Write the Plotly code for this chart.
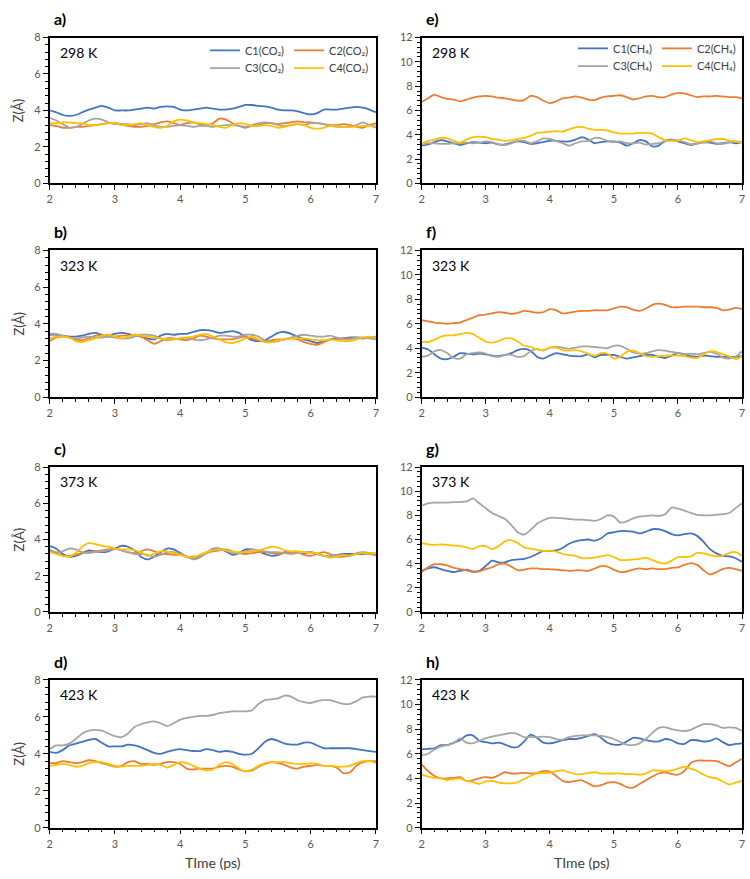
import plotly.graph_objects as go

# ---------------- data ----------------
TIME_PS = [2.0, 2.1, 2.2, 2.3, 2.4, 2.5, 2.6, 2.7, 2.8, 2.9,
           3.0, 3.1, 3.2, 3.3, 3.4, 3.5, 3.6, 3.7, 3.8, 3.9,
           4.0, 4.1, 4.2, 4.3, 4.4, 4.5, 4.6, 4.7, 4.8, 4.9,
           5.0, 5.1, 5.2, 5.3, 5.4, 5.5, 5.6, 5.7, 5.8, 5.9,
           6.0, 6.1, 6.2, 6.3, 6.4, 6.5, 6.6, 6.7, 6.8, 6.9,
           7.0]

X_TICKS = [2, 3, 4, 5, 6, 7]
CO2_NAMES = ["C1(CO\u2082)", "C2(CO\u2082)", "C3(CO\u2082)", "C4(CO\u2082)"]
CH4_NAMES = ["C1(CH\u2084)", "C2(CH\u2084)", "C3(CH\u2084)", "C4(CH\u2084)"]
PANEL_LETTERS = ["a)", "b)", "c)", "d)", "e)", "f)", "g)", "h)"]
TEMPS = ["298 K", "323 K", "373 K", "423 K"]

# a) CO2 298 K
co2_298_c1 = [4.0, 3.9, 3.75, 3.7, 3.75, 3.9, 4.05, 4.15, 4.25, 4.15,
              4.0, 4.0, 4.0, 4.05, 4.1, 4.15, 4.1, 4.2, 4.22, 4.2,
              4.05, 4.0, 4.05, 4.1, 4.15, 4.1, 4.05, 4.05, 4.1, 4.2,
              4.3, 4.3, 4.25, 4.22, 4.15, 4.05, 4.0, 4.0, 3.95, 3.85,
              3.78, 3.85, 4.05, 4.05, 4.05, 4.1, 4.15, 4.2, 4.15, 4.05,
              3.9]
co2_298_c2 = [3.2, 3.15, 3.05, 3.05, 3.1, 3.1, 3.15, 3.2, 3.25, 3.3,
              3.3, 3.25, 3.15, 3.1, 3.1, 3.15, 3.25, 3.35, 3.4, 3.3,
              3.2, 3.3, 3.35, 3.25, 3.2, 3.3, 3.55, 3.5, 3.3, 3.15,
              3.05, 3.15, 3.2, 3.3, 3.3, 3.25, 3.3, 3.35, 3.4, 3.35,
              3.35, 3.3, 3.25, 3.2, 3.2, 3.25, 3.2, 3.1, 3.05, 3.2,
              3.3]
co2_298_c3 = [3.6, 3.45, 3.25, 3.05, 3.1, 3.25, 3.45, 3.55, 3.5, 3.35,
              3.25, 3.25, 3.25, 3.2, 3.25, 3.3, 3.2, 3.1, 3.1, 3.15,
              3.2, 3.15, 3.1, 3.15, 3.15, 3.1, 3.15, 3.2, 3.2, 3.15,
              3.1, 3.2, 3.3, 3.35, 3.3, 3.2, 3.15, 3.2, 3.25, 3.2,
              3.3, 3.3, 3.25, 3.15, 3.1, 3.1, 3.1, 3.2, 3.35, 3.2,
              3.05]
co2_298_c4 = [3.3, 3.3, 3.35, 3.35, 3.3, 3.3, 3.2, 3.2, 3.25, 3.3,
              3.3, 3.2, 3.2, 3.25, 3.3, 3.2, 3.1, 3.05, 3.15, 3.4,
              3.5, 3.45, 3.35, 3.3, 3.25, 3.2, 3.1, 3.05, 3.2, 3.3,
              3.25, 3.15, 3.15, 3.2, 3.15, 3.05, 3.1, 3.2, 3.25, 3.2,
              3.05, 3.0, 3.05, 3.15, 3.15, 3.1, 3.1, 3.1, 3.15, 3.15,
              3.2]

# b) CO2 323 K
co2_323_c1 = [3.4, 3.4, 3.35, 3.3, 3.3, 3.35, 3.45, 3.5, 3.4, 3.35,
              3.45, 3.5, 3.45, 3.35, 3.3, 3.2, 3.15, 3.35, 3.45, 3.4,
              3.45, 3.45, 3.55, 3.65, 3.65, 3.6, 3.5, 3.55, 3.6, 3.5,
              3.3, 3.1, 3.05, 3.1, 3.3, 3.5, 3.55, 3.45, 3.3, 3.15,
              3.05, 2.95, 3.05, 3.15, 3.2, 3.2, 3.25, 3.25, 3.2, 3.25,
              3.25]
co2_323_c2 = [3.05, 3.25, 3.3, 3.25, 3.15, 3.1, 3.2, 3.35, 3.35, 3.3,
              3.3, 3.35, 3.35, 3.4, 3.3, 3.1, 2.9, 3.05, 3.2, 3.2,
              3.15, 3.1, 3.2, 3.35, 3.3, 3.2, 3.15, 3.15, 3.15, 3.25,
              3.3, 3.2, 3.1, 3.05, 3.1, 3.15, 3.15, 3.2, 3.15, 3.0,
              2.9, 2.85, 3.0, 3.15, 3.15, 3.2, 3.2, 3.2, 3.2, 3.25,
              3.3]
co2_323_c3 = [3.45, 3.45, 3.35, 3.25, 3.2, 3.25, 3.3, 3.25, 3.25, 3.3,
              3.25, 3.2, 3.2, 3.3, 3.4, 3.4, 3.35, 3.2, 3.1, 3.15,
              3.2, 3.2, 3.15, 3.1, 3.15, 3.25, 3.35, 3.35, 3.3, 3.3,
              3.4, 3.4, 3.3, 3.1, 3.0, 3.05, 3.15, 3.25, 3.35, 3.4,
              3.35, 3.3, 3.3, 3.35, 3.25, 3.15, 3.15, 3.25, 3.25, 3.2,
              3.15]
co2_323_c4 = [3.2, 3.3, 3.3, 3.25, 3.05, 3.0, 3.1, 3.2, 3.35, 3.4,
              3.3, 3.2, 3.3, 3.4, 3.35, 3.3, 3.25, 3.2, 3.15, 3.15,
              3.2, 3.25, 3.3, 3.4, 3.45, 3.3, 3.15, 3.0, 2.95, 3.05,
              3.2, 3.3, 3.15, 3.0, 3.0, 3.1, 3.15, 3.2, 3.2, 3.2,
              3.15, 3.1, 3.1, 3.15, 3.1, 3.05, 3.05, 3.15, 3.25, 3.3,
              3.25]

# c) CO2 373 K
co2_373_c1 = [3.65, 3.5, 3.2, 3.05, 3.1, 3.25, 3.4, 3.35, 3.3, 3.35,
              3.5, 3.65, 3.6, 3.4, 3.05, 2.9, 3.05, 3.3, 3.5, 3.45,
              3.25, 3.05, 2.95, 3.05, 3.25, 3.45, 3.5, 3.35, 3.15, 3.25,
              3.45, 3.45, 3.35, 3.2, 3.1, 3.15, 3.3, 3.3, 3.3, 3.25,
              3.3, 3.2, 3.1, 3.1, 3.15, 3.2, 3.2, 3.2, 3.2, 3.25,
              3.2]
co2_373_c2 = [3.4, 3.25, 3.1, 3.1, 3.15, 3.25, 3.3, 3.35, 3.4, 3.45,
              3.5, 3.4, 3.3, 3.25, 3.35, 3.45, 3.35, 3.2, 3.2, 3.15,
              3.15, 3.05, 3.05, 3.1, 3.25, 3.35, 3.4, 3.45, 3.35, 3.25,
              3.2, 3.25, 3.3, 3.3, 3.25, 3.2, 3.25, 3.3, 3.3, 3.15,
              3.1, 3.2, 3.3, 3.2, 3.05, 3.05, 3.1, 3.2, 3.25, 3.2,
              3.2]
co2_373_c3 = [3.45, 3.3, 3.35, 3.5, 3.45, 3.3, 3.25, 3.3, 3.35, 3.4,
              3.5, 3.4, 3.3, 3.2, 3.2, 3.15, 3.05, 3.15, 3.3, 3.3,
              3.2, 3.05, 2.9, 3.0, 3.25, 3.5, 3.5, 3.4, 3.25, 3.25,
              3.35, 3.45, 3.4, 3.35, 3.3, 3.3, 3.25, 3.2, 3.25, 3.3,
              3.3, 3.2, 3.1, 3.1, 3.15, 3.1, 3.1, 3.25, 3.3, 3.25,
              3.1]
co2_373_c4 = [3.3, 3.2, 3.1, 3.05, 3.25, 3.6, 3.8, 3.75, 3.65, 3.6,
              3.5, 3.45, 3.45, 3.4, 3.3, 3.1, 3.2, 3.35, 3.35, 3.25,
              3.15, 3.05, 3.0, 3.15, 3.3, 3.4, 3.45, 3.4, 3.35, 3.3,
              3.3, 3.35, 3.4, 3.5, 3.6, 3.55, 3.4, 3.35, 3.35, 3.3,
              3.25, 3.25, 3.1, 3.0, 3.05, 3.15, 3.1, 3.2, 3.25, 3.25,
              3.25]

# d) CO2 423 K
co2_423_c1 = [4.1, 4.05, 4.2, 4.45, 4.55, 4.65, 4.75, 4.8, 4.6, 4.4,
              4.4, 4.4, 4.5, 4.45, 4.35, 4.2, 4.05, 4.0, 4.1, 4.2,
              4.25, 4.2, 4.15, 4.15, 4.25, 4.2, 4.1, 4.15, 4.1, 4.0,
              3.95, 4.0, 4.3, 4.65, 4.8, 4.7, 4.55, 4.5, 4.5, 4.6,
              4.6, 4.45, 4.3, 4.3, 4.3, 4.3, 4.3, 4.25, 4.2, 4.15,
              4.1]
co2_423_c2 = [3.5, 3.5, 3.6, 3.55, 3.5, 3.55, 3.65, 3.6, 3.5, 3.4,
              3.3, 3.35, 3.55, 3.6, 3.45, 3.45, 3.4, 3.45, 3.55, 3.55,
              3.45, 3.2, 3.15, 3.2, 3.2, 3.2, 3.3, 3.35, 3.3, 3.15,
              3.05, 3.1, 3.3, 3.45, 3.55, 3.5, 3.4, 3.25, 3.2, 3.3,
              3.35, 3.4, 3.35, 3.35, 3.25, 2.95, 3.0, 3.35, 3.55, 3.6,
              3.6]
co2_423_c3 = [4.25, 4.45, 4.45, 4.55, 4.8, 5.1, 5.25, 5.3, 5.25, 5.1,
              4.95, 4.9, 5.1, 5.45, 5.6, 5.7, 5.75, 5.65, 5.5, 5.65,
              5.85, 5.95, 6.0, 6.05, 6.05, 6.1, 6.2, 6.25, 6.3, 6.3,
              6.3, 6.35, 6.7, 6.9, 6.95, 7.0, 7.15, 7.1, 6.9, 6.8,
              6.75, 6.85, 6.9, 6.9, 6.8, 6.7, 6.7, 6.85, 7.05, 7.1,
              7.1]
co2_423_c4 = [3.35, 3.4, 3.45, 3.4, 3.3, 3.35, 3.5, 3.55, 3.55, 3.45,
              3.35, 3.3, 3.35, 3.35, 3.35, 3.4, 3.45, 3.4, 3.25, 3.4,
              3.55, 3.5, 3.35, 3.2, 3.1, 3.15, 3.4, 3.55, 3.45, 3.2,
              3.05, 3.15, 3.35, 3.5, 3.55, 3.55, 3.55, 3.5, 3.45, 3.45,
              3.5, 3.45, 3.35, 3.35, 3.3, 3.3, 3.35, 3.5, 3.6, 3.6,
              3.5]

# e) CH4 298 K
ch4_298_c1 = [3.1, 3.2, 3.4, 3.55, 3.45, 3.3, 3.15, 3.3, 3.4, 3.35,
              3.3, 3.35, 3.2, 3.2, 3.35, 3.45, 3.4, 3.25, 3.3, 3.4,
              3.5, 3.5, 3.45, 3.45, 3.6, 3.8, 3.6, 3.3, 3.4, 3.45,
              3.45, 3.35, 3.1, 3.3, 3.55, 3.45, 3.05, 3.1, 3.5, 3.6,
              3.45, 3.3, 3.15, 3.3, 3.4, 3.35, 3.25, 3.3, 3.4, 3.3,
              3.4]
ch4_298_c2 = [6.7, 7.0, 7.3, 7.1, 6.95, 6.9, 6.75, 6.9, 7.05, 7.15,
              7.2, 7.15, 7.05, 7.0, 6.9, 6.8, 6.85, 7.2, 7.1, 6.8,
              6.6, 6.75, 7.0, 7.05, 7.15, 7.05, 6.9, 6.85, 7.05, 7.15,
              7.2, 7.25, 7.1, 6.9, 7.0, 7.15, 7.2, 7.1, 7.1, 7.3,
              7.45, 7.4, 7.25, 7.1, 7.15, 7.15, 7.2, 7.15, 7.1, 7.1,
              7.0]
ch4_298_c3 = [3.2, 3.3, 3.3, 3.25, 3.25, 3.3, 3.3, 3.35, 3.3, 3.35,
              3.45, 3.4, 3.2, 3.15, 3.3, 3.5, 3.5, 3.3, 3.45, 3.7,
              3.65, 3.5, 3.3, 3.1, 3.3, 3.45, 3.5, 3.75, 3.7, 3.5,
              3.4, 3.45, 3.3, 3.3, 3.35, 3.2, 3.25, 3.3, 3.45, 3.55,
              3.55, 3.4, 3.2, 3.25, 3.35, 3.45, 3.3, 3.25, 3.35, 3.45,
              3.4]
ch4_298_c4 = [3.25, 3.5, 3.6, 3.75, 3.7, 3.5, 3.35, 3.6, 3.8, 3.85,
              3.8, 3.65, 3.6, 3.5, 3.55, 3.65, 3.75, 3.9, 4.15, 4.2,
              4.25, 4.3, 4.25, 4.45, 4.6, 4.65, 4.5, 4.4, 4.4, 4.35,
              4.2, 4.1, 4.1, 4.1, 4.15, 4.15, 4.1, 3.8, 3.55, 3.5,
              3.5, 3.7, 3.55, 3.4, 3.45, 3.55, 3.65, 3.65, 3.5, 3.45,
              3.35]

# f) CH4 323 K
ch4_323_c1 = [4.05, 3.9, 3.5, 3.15, 3.1, 3.3, 3.6, 3.55, 3.5, 3.55,
              3.5, 3.4, 3.35, 3.45, 3.6, 3.85, 3.95, 3.8, 3.3, 3.15,
              3.4, 3.6, 3.5, 3.4, 3.35, 3.35, 3.5, 3.25, 3.45, 3.45,
              3.45, 3.3, 3.15, 3.25, 3.35, 3.45, 3.45, 3.3, 3.2, 3.4,
              3.6, 3.5, 3.35, 3.3, 3.4, 3.35, 3.3, 3.3, 3.3, 3.3,
              3.35]
ch4_323_c2 = [6.3, 6.2, 6.1, 6.05, 6.0, 6.05, 6.1, 6.3, 6.5, 6.7,
              6.75, 6.85, 6.95, 6.9, 6.8, 6.9, 7.05, 7.0, 6.9, 6.95,
              7.2, 7.1, 6.85, 6.9, 7.0, 7.05, 7.05, 7.1, 7.1, 7.1,
              7.25, 7.4, 7.35, 7.15, 7.05, 7.25, 7.55, 7.65, 7.55, 7.35,
              7.35, 7.4, 7.4, 7.4, 7.35, 7.35, 7.3, 7.1, 7.15, 7.3,
              7.2]
ch4_323_c3 = [3.3, 3.4, 3.75, 3.85, 3.6, 3.2, 3.15, 3.5, 3.6, 3.65,
              3.55, 3.35, 3.3, 3.45, 3.45, 3.3, 3.35, 3.75, 3.95, 3.8,
              4.05, 4.1, 4.05, 3.95, 4.05, 4.15, 4.15, 4.1, 4.05, 4.0,
              4.2, 4.2, 3.95, 3.65, 3.55, 3.6, 3.75, 3.85, 3.8, 3.7,
              3.6, 3.5, 3.55, 3.5, 3.6, 3.7, 3.55, 3.25, 3.15, 3.3,
              3.75]
ch4_323_c4 = [4.5, 4.5, 4.7, 4.95, 5.05, 5.05, 5.15, 5.25, 5.15, 4.85,
              4.55, 4.45, 4.6, 4.8, 4.8, 4.55, 4.2, 4.1, 3.9, 3.85,
              4.05, 4.05, 3.85, 3.8, 3.85, 3.75, 3.55, 3.4, 3.6, 3.55,
              3.15, 3.3, 3.7, 3.8, 3.6, 3.35, 3.3, 3.35, 3.4, 3.4,
              3.4, 3.35, 3.25, 3.2, 3.5, 3.75, 3.7, 3.5, 3.35, 3.1,
              3.35]

# g) CH4 373 K
ch4_373_c1 = [3.4, 3.6, 3.7, 3.55, 3.4, 3.3, 3.4, 3.5, 3.35, 3.4,
              3.8, 4.25, 4.1, 4.1, 4.3, 4.35, 4.4, 4.55, 4.8, 5.05,
              5.05, 5.1, 5.3, 5.65, 5.85, 5.95, 6.0, 5.9, 6.1, 6.5,
              6.6, 6.7, 6.7, 6.65, 6.5, 6.65, 6.85, 6.85, 6.7, 6.45,
              6.35, 6.45, 6.5, 6.3, 5.8, 5.2, 4.85, 4.65, 4.6, 4.45,
              4.15]
ch4_373_c2 = [3.3, 3.7, 3.95, 3.95, 3.85, 3.65, 3.55, 3.45, 3.3, 3.35,
              3.55, 3.7, 3.95, 4.0, 3.75, 3.45, 3.5, 3.6, 3.6, 3.55,
              3.55, 3.5, 3.45, 3.4, 3.45, 3.45, 3.4, 3.6, 3.8, 3.75,
              3.5, 3.3, 3.35, 3.5, 3.6, 3.55, 3.6, 3.55, 3.55, 3.65,
              3.7, 3.9, 4.05, 3.9, 3.45, 3.1, 3.3, 3.55, 3.65, 3.55,
              3.4]
ch4_373_c3 = [8.8, 9.0, 9.05, 9.05, 9.05, 9.1, 9.1, 9.15, 9.4, 9.0,
              8.6, 8.2, 7.95, 7.7, 7.2, 6.6, 6.4, 6.8, 7.3, 7.6,
              7.8, 7.8, 7.75, 7.7, 7.65, 7.65, 7.6, 7.55, 7.7, 8.0,
              7.9, 7.4, 7.5, 7.75, 7.9, 7.95, 8.0, 7.95, 8.1, 8.65,
              8.55, 8.4, 8.2, 8.05, 8.0, 8.0, 8.05, 8.1, 8.2, 8.6,
              9.0]
ch4_373_c4 = [5.7, 5.6, 5.55, 5.6, 5.55, 5.5, 5.45, 5.35, 5.2, 5.45,
              5.45, 5.2, 5.45, 5.85, 5.95, 5.7, 5.35, 5.25, 5.15, 5.05,
              5.05, 5.0, 4.8, 4.7, 4.65, 4.45, 4.45, 4.5, 4.6, 4.7,
              4.55, 4.3, 4.3, 4.35, 4.4, 4.5, 4.3, 4.1, 4.0, 4.25,
              4.55, 4.55, 4.6, 4.9, 4.85, 4.7, 4.6, 4.65, 4.9, 4.95,
              4.65]

# h) CH4 423 K
ch4_423_c1 = [6.35, 6.4, 6.45, 6.7, 6.7, 6.9, 7.1, 7.5, 7.5, 7.05,
              6.95, 6.85, 6.9, 6.75, 6.55, 6.55, 7.0, 7.55, 7.3, 6.9,
              6.85, 6.95, 7.1, 7.2, 7.2, 7.3, 7.45, 7.6, 7.3, 6.9,
              6.75, 6.75, 7.0, 7.3, 7.25, 7.1, 7.0, 7.0, 7.2, 7.1,
              6.85, 6.8, 7.1, 7.1, 7.0, 7.05, 7.25, 6.95, 6.7, 6.8,
              6.85]
ch4_423_c2 = [5.15, 4.6, 4.2, 4.0, 4.0, 4.05, 4.1, 3.8, 3.85, 4.0,
              4.1, 4.05, 4.25, 4.5, 4.4, 4.4, 4.45, 4.4, 4.45, 4.6,
              4.55, 4.2, 3.8, 3.7, 3.8, 3.85, 3.6, 3.35, 3.45, 3.65,
              3.7, 3.55, 3.3, 3.25, 3.55, 3.85, 4.15, 4.4, 4.5, 4.35,
              4.3, 4.6, 5.25, 5.45, 5.45, 5.45, 5.4, 5.2, 5.0, 5.3,
              5.6]
ch4_423_c3 = [5.85, 6.0, 6.35, 6.6, 6.7, 6.85, 7.25, 6.9, 6.85, 7.05,
              7.25, 7.4, 7.5, 7.6, 7.7, 7.6, 7.35, 7.35, 7.35, 7.4,
              7.35, 7.2, 7.15, 7.35, 7.45, 7.5, 7.5, 7.5, 7.45, 7.35,
              7.2, 6.95, 6.75, 6.7, 6.85, 7.2, 7.7, 8.1, 8.15, 8.0,
              7.9, 7.85, 7.95, 8.2, 8.4, 8.4, 8.3, 8.1, 8.15, 8.1,
              7.85]
ch4_423_c4 = [4.3, 4.15, 4.05, 4.0, 3.85, 3.95, 4.0, 3.8, 3.7, 3.55,
              3.75, 3.8, 3.65, 3.6, 3.6, 3.7, 3.95, 4.2, 4.4, 4.45,
              4.45, 4.6, 4.65, 4.5, 4.35, 4.35, 4.45, 4.5, 4.4, 4.4,
              4.4, 4.4, 4.35, 4.35, 4.3, 4.4, 4.65, 4.65, 4.6, 4.65,
              4.8, 4.95, 4.8, 4.6, 4.3, 4.1, 4.0, 3.75, 3.5, 3.65,
              3.8]

# ---------------- styling / layout ----------------
COLORS = ["#4472C4", "#ED7D31", "#A5A5A5", "#FFC000"]
FONT = "Lato"
W, H = 750, 879

panels = [
    ([co2_298_c1, co2_298_c2, co2_298_c3, co2_298_c4], CO2_NAMES, 8, 0, 0),
    ([co2_323_c1, co2_323_c2, co2_323_c3, co2_323_c4], CO2_NAMES, 8, 0, 1),
    ([co2_373_c1, co2_373_c2, co2_373_c3, co2_373_c4], CO2_NAMES, 8, 0, 2),
    ([co2_423_c1, co2_423_c2, co2_423_c3, co2_423_c4], CO2_NAMES, 8, 0, 3),
    ([ch4_298_c1, ch4_298_c2, ch4_298_c3, ch4_298_c4], CH4_NAMES, 12, 1, 0),
    ([ch4_323_c1, ch4_323_c2, ch4_323_c3, ch4_323_c4], CH4_NAMES, 12, 1, 1),
    ([ch4_373_c1, ch4_373_c2, ch4_373_c3, ch4_373_c4], CH4_NAMES, 12, 1, 2),
    ([ch4_423_c1, ch4_423_c2, ch4_423_c3, ch4_423_c4], CH4_NAMES, 12, 1, 3),
]

# pixel geometry of plot areas
COL_X = [(47, 376), (422, 745)]
ROW_Y = [(31, 179), (247, 396), (467, 614), (683, 833)]


def px_x(p):
    return p / W


def px_y(p):
    return 1 - p / H


fig = go.Figure()
annotations = []
layout_axes = {}

legend_map = {0: ["legend", "legend", "legend2", "legend2"],
              4: ["legend3", "legend3", "legend4", "legend4"]}

for i, (series, names, ymax, col, row) in enumerate(panels):
    n = i + 1
    xa = "x" if n == 1 else f"x{n}"
    ya = "y" if n == 1 else f"y{n}"
    for k in range(4):
        if i in legend_map:
            kw = dict(showlegend=True, legend=legend_map[i][k])
        else:
            kw = dict(showlegend=False)
        fig.add_trace(go.Scatter(
            x=TIME_PS, y=series[k], mode="lines", name=names[k],
            line=dict(color=COLORS[k], width=1.8, shape="spline", smoothing=0.6),
            xaxis=xa, yaxis=ya, **kw))

    x0, x1 = COL_X[col]
    y0, y1 = ROW_Y[row]
    xkey = "xaxis" if n == 1 else f"xaxis{n}"
    ykey = "yaxis" if n == 1 else f"yaxis{n}"
    layout_axes[xkey] = dict(
        domain=[px_x(x0), px_x(x1)], anchor=ya, range=[2, 7],
        tickvals=X_TICKS, ticks="outside", ticklen=5, tickwidth=1,
        tickcolor="#000000",
        minor=dict(dtick=0.2, ticks="outside", ticklen=3, tickcolor="#000000"),
        showline=True, linecolor="#000000", linewidth=1.5, mirror=True,
        showgrid=False, zeroline=False,
        tickfont=dict(family=FONT, size=11, color="#595959"))
    layout_axes[ykey] = dict(
        domain=[px_y(y1), px_y(y0)], anchor=xa, range=[0, ymax],
        dtick=2, ticks="outside", ticklen=5, tickwidth=1, tickcolor="#000000",
        minor=dict(dtick=0.4, ticks="outside", ticklen=3, tickcolor="#000000"),
        showline=True, linecolor="#000000", linewidth=1.5, mirror=True,
        showgrid=False, zeroline=False,
        tickfont=dict(family=FONT, size=11, color="#595959"))

    # panel letter
    annotations.append(dict(
        text=f"<b>{PANEL_LETTERS[i]}</b>", xref="paper", yref="paper",
        x=px_x(x0 + 2), y=px_y(y0 - 19), xanchor="left", yanchor="middle",
        showarrow=False, font=dict(family=FONT, size=16, color="#000000")))
    # temperature label
    annotations.append(dict(
        text=TEMPS[row], xref="paper", yref="paper",
        x=px_x(x0 + 8), y=px_y(y0 + 15), xanchor="left", yanchor="middle",
        showarrow=False, font=dict(family=FONT, size=14, color="#000000")))
    # y title on left column
    if col == 0:
        annotations.append(dict(
            text="Z(Å)", xref="paper", yref="paper", textangle=-90,
            x=px_x(16), y=px_y((y0 + y1) / 2), xanchor="center",
            yanchor="middle", showarrow=False,
            font=dict(family=FONT, size=13, color="#404040")))
    if row == 3:
        annotations.append(dict(
            text="TIme (ps)", xref="paper", yref="paper",
            x=px_x((x0 + x1) / 2), y=px_y(868), xanchor="center",
            yanchor="middle", showarrow=False,
            font=dict(family=FONT, size=14, color="#404040")))

legend_common = dict(orientation="h", xanchor="right", yanchor="middle",
                     bgcolor="rgba(0,0,0,0)", borderwidth=0,
                     font=dict(family=FONT, size=11, color="#404040"),
                     itemwidth=30, tracegroupgap=0)

fig.update_layout(
    width=W, height=H,
    margin=dict(l=0, r=0, t=0, b=0),
    paper_bgcolor="#FFFFFF", plot_bgcolor="#FFFFFF",
    font=dict(family=FONT, color="#404040"),
    annotations=annotations,
    legend=dict(x=px_x(374), y=px_y(44), **legend_common),
    legend2=dict(x=px_x(374), y=px_y(62), **legend_common),
    legend3=dict(x=px_x(744), y=px_y(42), **legend_common),
    legend4=dict(x=px_x(744), y=px_y(60), **legend_common),
    **layout_axes,
)

fig.write_html(
    "out.html",
    config={"displayModeBar": False},
    post_script="document.body.style.margin='0';"
                "document.body.style.padding='0';"
                "document.body.style.overflow='hidden';",
)
